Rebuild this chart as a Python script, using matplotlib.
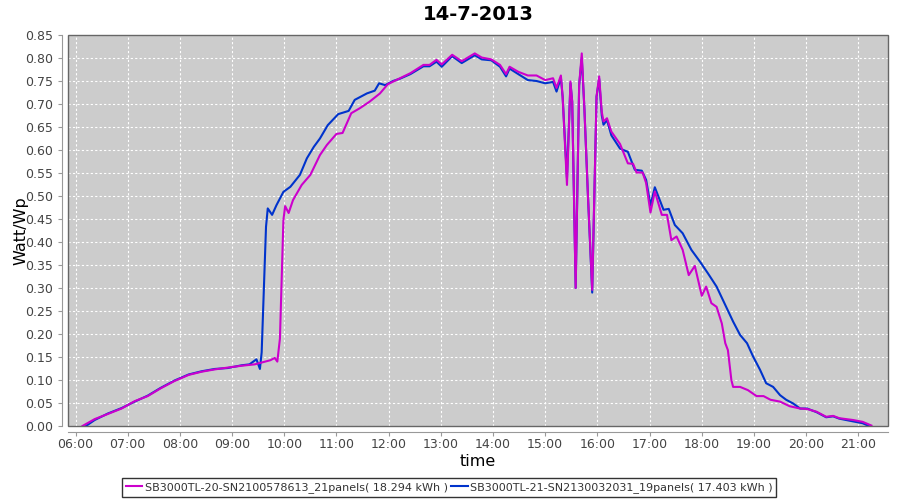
import matplotlib
matplotlib.use("Agg")
import matplotlib.pyplot as plt
import matplotlib.dates as mdates
from matplotlib.patches import Rectangle
import pandas as pd

# --- data (time of day, Watt/Wp) ---
day = "2013-07-14 "

sn20_times = ["06:08", "06:22", "06:37", "06:53", "07:08", "07:23", "07:38", "07:54",
              "08:10", "08:25", "08:40", "08:55", "09:11", "09:26", "09:34", "09:44",
              "09:49", "09:52", "09:55", "09:59", "10:01", "10:05", "10:10", "10:20",
              "10:30", "10:41", "10:49", "11:00", "11:07", "11:17", "11:27", "11:38",
              "11:50", "11:59", "12:13", "12:25", "12:40", "12:47", "12:55", "13:01",
              "13:13", "13:24", "13:39", "13:47", "13:58", "14:08", "14:15", "14:19",
              "14:29", "14:40", "14:50", "15:00", "15:09", "15:13", "15:18", "15:20",
              "15:25", "15:29", "15:31", "15:35", "15:39", "15:42", "15:45", "15:49",
              "15:54", "15:59", "16:02", "16:05", "16:07", "16:11", "16:16", "16:26",
              "16:35", "16:41", "16:45", "16:52", "16:56", "17:01", "17:06", "17:14",
              "17:20", "17:25", "17:31", "17:38", "17:45", "17:52", "18:00", "18:05",
              "18:11", "18:17", "18:23", "18:27", "18:30", "18:34", "18:36", "18:44",
              "18:53", "19:03", "19:11", "19:19", "19:30", "19:41", "19:53", "20:01",
              "20:12", "20:23", "20:31", "20:38", "20:54", "21:05", "21:15"]
sn20_vals = [0.000, 0.015, 0.026, 0.038, 0.054, 0.065, 0.082, 0.098,
             0.111, 0.118, 0.123, 0.127, 0.131, 0.134, 0.138, 0.143,
             0.148, 0.140, 0.190, 0.448, 0.478, 0.463, 0.491, 0.524,
             0.546, 0.589, 0.611, 0.635, 0.637, 0.680, 0.691, 0.705,
             0.723, 0.743, 0.756, 0.767, 0.785, 0.785, 0.796, 0.786,
             0.807, 0.793, 0.810, 0.801, 0.797, 0.785, 0.765, 0.781,
             0.770, 0.762, 0.762, 0.752, 0.756, 0.735, 0.762, 0.716,
             0.524, 0.749, 0.705, 0.300, 0.741, 0.810, 0.691, 0.506,
             0.296, 0.716, 0.760, 0.683, 0.662, 0.669, 0.640, 0.613,
             0.571, 0.570, 0.551, 0.551, 0.528, 0.464, 0.510, 0.459,
             0.459, 0.404, 0.412, 0.383, 0.328, 0.348, 0.283, 0.303,
             0.267, 0.259, 0.223, 0.180, 0.165, 0.100, 0.085, 0.085,
             0.078, 0.065, 0.065, 0.057, 0.053, 0.043, 0.038, 0.037,
             0.031, 0.020, 0.022, 0.017, 0.013, 0.009, 0.001]

sn21_times = ["06:12", "06:22", "06:37", "06:53", "07:08", "07:23", "07:38", "07:54",
              "08:10", "08:25", "08:40", "08:55", "09:11", "09:20", "09:28", "09:32",
              "09:34", "09:39", "09:41", "09:46", "09:51", "09:59", "10:07", "10:18",
              "10:26", "10:34", "10:41", "10:50", "11:02", "11:14", "11:21", "11:35",
              "11:44", "11:49", "11:56", "12:05", "12:13", "12:25", "12:40", "12:47",
              "12:55", "13:01", "13:13", "13:24", "13:39", "13:47", "13:58", "14:08",
              "14:15", "14:19", "14:29", "14:40", "14:50", "15:00", "15:09", "15:13",
              "15:18", "15:20", "15:25", "15:29", "15:31", "15:35", "15:39", "15:42",
              "15:45", "15:49", "15:54", "15:59", "16:02", "16:05", "16:07", "16:11",
              "16:16", "16:26", "16:35", "16:43", "16:51", "16:56", "17:01", "17:06",
              "17:16", "17:22", "17:29", "17:38", "17:48", "17:58", "18:07", "18:17",
              "18:26", "18:36", "18:44", "18:52", "18:59", "19:07", "19:14", "19:22",
              "19:30", "19:37", "19:45", "19:53", "20:01", "20:12", "20:23", "20:31",
              "20:38", "20:54", "21:05", "21:12"]
sn21_vals = [0.000, 0.013, 0.027, 0.039, 0.053, 0.066, 0.083, 0.099,
             0.112, 0.119, 0.124, 0.126, 0.132, 0.134, 0.145, 0.124,
             0.160, 0.433, 0.473, 0.459, 0.480, 0.509, 0.520, 0.546,
             0.582, 0.607, 0.625, 0.654, 0.678, 0.685, 0.709, 0.723,
             0.729, 0.745, 0.741, 0.750, 0.755, 0.765, 0.782, 0.782,
             0.792, 0.781, 0.804, 0.789, 0.806, 0.797, 0.795, 0.781,
             0.760, 0.777, 0.765, 0.752, 0.750, 0.745, 0.748, 0.727,
             0.757, 0.716, 0.539, 0.745, 0.705, 0.300, 0.741, 0.800,
             0.691, 0.506, 0.290, 0.716, 0.755, 0.675, 0.655, 0.665,
             0.632, 0.603, 0.596, 0.557, 0.555, 0.535, 0.480, 0.519,
             0.470, 0.472, 0.437, 0.419, 0.383, 0.357, 0.332, 0.303,
             0.267, 0.227, 0.198, 0.180, 0.151, 0.122, 0.093, 0.085,
             0.067, 0.057, 0.049, 0.038, 0.038, 0.030, 0.019, 0.021,
             0.016, 0.010, 0.006, 0.000]

sn20_label = "SB3000TL-20-SN2100578613_21panels( 18.294 kWh )"
sn21_label = "SB3000TL-21-SN2130032031_19panels( 17.403 kWh )"

t20 = pd.to_datetime([day + s for s in sn20_times])
t21 = pd.to_datetime([day + s for s in sn21_times])

fig = plt.figure(figsize=(9, 5), dpi=100)
ax = fig.add_axes([0.0756, 0.148, 0.911, 0.782])
ax.set_facecolor("#cccccc")

ax.plot(t21, sn21_vals, color="#0033cc", lw=1.5, label=sn21_label, zorder=3)
ax.plot(t20, sn20_vals, color="#cc00cc", lw=1.5, label=sn20_label, zorder=4)

ax.set_xlim(pd.Timestamp(day + "05:51:24"), pd.Timestamp(day + "21:34:00"))
ax.set_ylim(0, 0.85)
ax.set_yticks([i * 0.05 for i in range(18)])
ax.yaxis.set_major_formatter(plt.FuncFormatter(lambda v, p: f"{v:.2f}"))
ax.xaxis.set_major_locator(mdates.HourLocator())
ax.xaxis.set_major_formatter(mdates.DateFormatter("%H:%M"))

ax.grid(True, color="white", ls=(0, (2, 2)), lw=0.8)
ax.set_axisbelow(True)

for s in ["top", "right"]:
    ax.spines[s].set_visible(False)
for s in ["left", "bottom"]:
    ax.spines[s].set_position(("outward", 4))
    ax.spines[s].set_color("#999999")
ax.add_patch(Rectangle((0, 0), 1, 1, transform=ax.transAxes, fill=False,
                       ec="#666666", lw=1, clip_on=False, zorder=5))

ax.tick_params(colors="#999999", labelcolor="#444444", labelsize=9, length=3)
ax.tick_params(axis="x", pad=2)

ax.set_title("14-7-2013", fontsize=14, fontweight="bold", pad=11)
ax.set_xlabel("time", fontsize=11.5, labelpad=2)
ax.set_ylabel("Watt/Wp", fontsize=11.5, labelpad=-2)

h, l = ax.get_legend_handles_labels()
leg = fig.legend(h[::-1], l[::-1], loc="center", bbox_to_anchor=(0.499, 0.025), ncol=2,
                 fontsize=8, frameon=True, fancybox=False, edgecolor="black",
                 handlelength=1.5, handletextpad=0.2, columnspacing=0.3,
                 borderpad=0.35, borderaxespad=0)
leg.get_frame().set_linewidth(1.0)
for t in leg.get_texts():
    t.set_color("#333333")

fig.savefig("out.png", dpi=100)
